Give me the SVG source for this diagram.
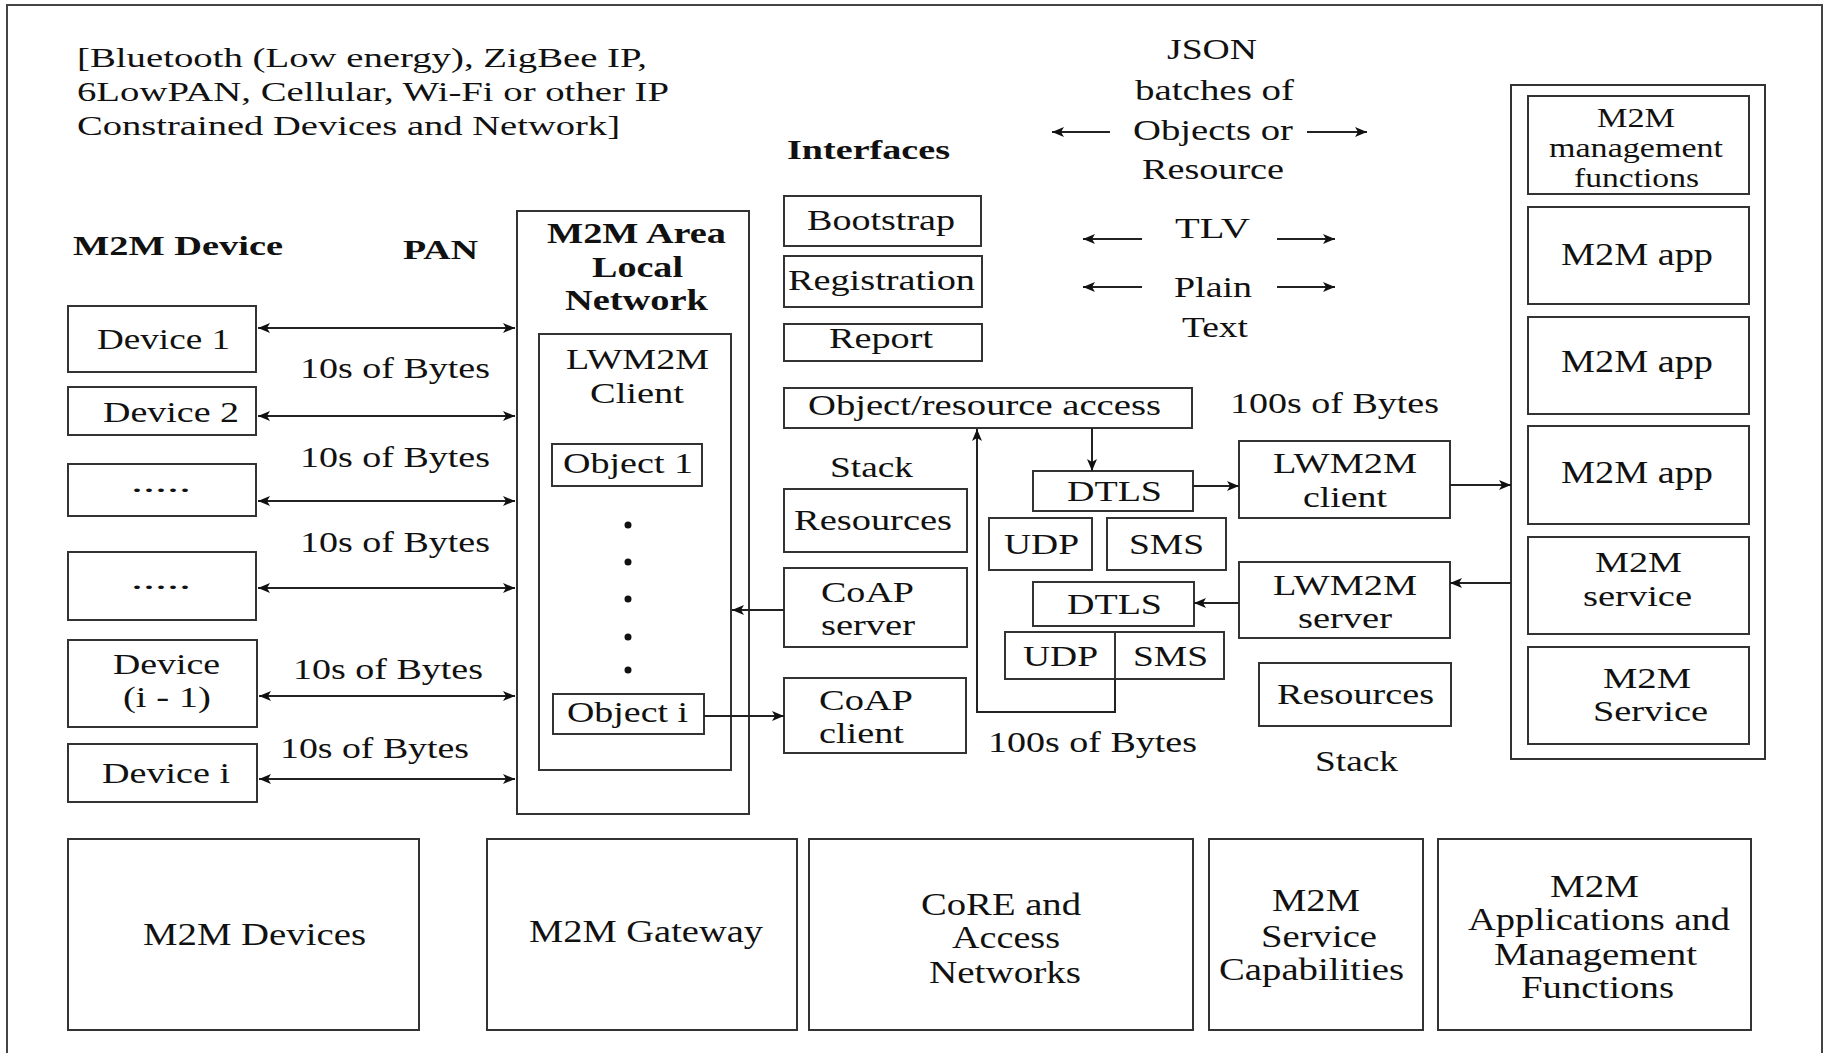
<svg xmlns="http://www.w3.org/2000/svg" width="1825" height="1053" viewBox="0 0 1825 1053">
<style>
.b{fill:#fff;stroke:#333;stroke-width:2}
.t{font-family:"Liberation Serif","Times New Roman",serif;font-size:30px;fill:#111}
.s{font-size:28px}
.l{font-size:32px}
.bd{font-weight:bold}
.c{fill:none;stroke:#222;stroke-width:2}
</style>
<defs>
<marker id="ah" viewBox="0 0 12 10" refX="12" refY="5" markerWidth="12" markerHeight="10" markerUnits="userSpaceOnUse" orient="auto-start-reverse">
<path d="M0,0 L12,5 L0,10 L3,5 z" fill="#111"/>
</marker>
</defs>
<rect width="1825" height="1053" fill="#fff"/>
<path d="M7,1053 V5 H1822 V1053" fill="none" stroke="#444" stroke-width="2"/>

<g id="labels">
<text class="t s" x="77" y="67" textLength="570" lengthAdjust="spacingAndGlyphs">[Bluetooth (Low energy), ZigBee IP,</text>
<text class="t s" x="77" y="101" textLength="592" lengthAdjust="spacingAndGlyphs">6LowPAN, Cellular, Wi-Fi or other IP</text>
<text class="t s" x="77" y="135" textLength="543" lengthAdjust="spacingAndGlyphs">Constrained Devices and Network]</text>
<text class="t s bd" x="73" y="255" textLength="210" lengthAdjust="spacingAndGlyphs">M2M Device</text>
<text class="t s bd" x="403" y="259" textLength="75" lengthAdjust="spacingAndGlyphs">PAN</text>
<text class="t s bd" x="787" y="159" textLength="163" lengthAdjust="spacingAndGlyphs">Interfaces</text>
<text class="t" x="300" y="378" textLength="190" lengthAdjust="spacingAndGlyphs">10s of Bytes</text>
<text class="t" x="300" y="467" textLength="190" lengthAdjust="spacingAndGlyphs">10s of Bytes</text>
<text class="t" x="300" y="552" textLength="190" lengthAdjust="spacingAndGlyphs">10s of Bytes</text>
<text class="t" x="293" y="679" textLength="190" lengthAdjust="spacingAndGlyphs">10s of Bytes</text>
<text class="t" x="280" y="758" textLength="189" lengthAdjust="spacingAndGlyphs">10s of Bytes</text>
<text class="t" x="1167" y="59" textLength="90" lengthAdjust="spacingAndGlyphs">JSON</text>
<text class="t" x="1135" y="100" textLength="159" lengthAdjust="spacingAndGlyphs">batches of</text>
<text class="t" x="1133" y="140" textLength="160" lengthAdjust="spacingAndGlyphs">Objects or</text>
<text class="t" x="1142" y="179" textLength="142" lengthAdjust="spacingAndGlyphs">Resource</text>
<text class="t" x="1175" y="238" textLength="75" lengthAdjust="spacingAndGlyphs">TLV</text>
<text class="t" x="1174" y="297" textLength="78" lengthAdjust="spacingAndGlyphs">Plain</text>
<text class="t" x="1182" y="337" textLength="66" lengthAdjust="spacingAndGlyphs">Text</text>
<text class="t" x="830" y="477" textLength="83" lengthAdjust="spacingAndGlyphs">Stack</text>
<text class="t" x="1230" y="413" textLength="209" lengthAdjust="spacingAndGlyphs">100s of Bytes</text>
<text class="t" x="988" y="752" textLength="209" lengthAdjust="spacingAndGlyphs">100s of Bytes</text>
<text class="t" x="1315" y="771" textLength="83" lengthAdjust="spacingAndGlyphs">Stack</text>
</g>

<g id="device1"><rect class="b" x="68" y="306" width="188" height="66"/><text class="t" x="97" y="349" textLength="133" lengthAdjust="spacingAndGlyphs">Device 1</text></g>
<g id="device2"><rect class="b" x="68" y="387" width="188" height="48"/><text class="t" x="103" y="422" textLength="136" lengthAdjust="spacingAndGlyphs">Device 2</text></g>
<g id="device3"><rect class="b" x="68" y="464" width="188" height="52"/><text class="t" x="131" y="492" textLength="60" lengthAdjust="spacingAndGlyphs">.....</text></g>
<g id="device4"><rect class="b" x="68" y="552" width="188" height="68"/><text class="t" x="131" y="589" textLength="60" lengthAdjust="spacingAndGlyphs">.....</text></g>
<g id="device5"><rect class="b" x="68" y="640" width="189" height="87"/><text class="t" x="113" y="674" textLength="107" lengthAdjust="spacingAndGlyphs">Device</text><text class="t" x="123" y="707" textLength="88" lengthAdjust="spacingAndGlyphs">(i - 1)</text></g>
<g id="device6"><rect class="b" x="68" y="744" width="189" height="58"/><text class="t" x="102" y="783" textLength="128" lengthAdjust="spacingAndGlyphs">Device i</text></g>

<g id="area">
<rect class="b" x="517" y="211" width="232" height="603"/>
<text class="t bd" x="547" y="243" textLength="179" lengthAdjust="spacingAndGlyphs">M2M Area</text>
<text class="t bd" x="592" y="277" textLength="91" lengthAdjust="spacingAndGlyphs">Local</text>
<text class="t bd" x="565" y="310" textLength="143" lengthAdjust="spacingAndGlyphs">Network</text>
</g>
<g id="lwm2m-client-gw">
<rect class="b" x="539" y="334" width="192" height="436"/>
<text class="t" x="566" y="369" textLength="143" lengthAdjust="spacingAndGlyphs">LWM2M</text>
<text class="t" x="590" y="403" textLength="94" lengthAdjust="spacingAndGlyphs">Client</text>
<circle cx="628" cy="525" r="3.5" fill="#111"/>
<circle cx="628" cy="562" r="3.5" fill="#111"/>
<circle cx="628" cy="599" r="3.5" fill="#111"/>
<circle cx="628" cy="637" r="3.5" fill="#111"/>
<circle cx="628" cy="670" r="3.5" fill="#111"/>
</g>
<g id="object1"><rect class="b" x="552" y="444" width="150" height="42"/><text class="t" x="563" y="473" textLength="130" lengthAdjust="spacingAndGlyphs">Object 1</text></g>
<g id="objecti"><rect class="b" x="553" y="694" width="151" height="40"/><text class="t" x="567" y="722" textLength="121" lengthAdjust="spacingAndGlyphs">Object i</text></g>

<g id="bootstrap"><rect class="b" x="784" y="196" width="197" height="50"/><text class="t" x="807" y="230" textLength="148" lengthAdjust="spacingAndGlyphs">Bootstrap</text></g>
<g id="registration"><rect class="b" x="784" y="256" width="198" height="51"/><text class="t" x="788" y="290" textLength="187" lengthAdjust="spacingAndGlyphs">Registration</text></g>
<g id="report"><rect class="b" x="784" y="324" width="198" height="37"/><text class="t" x="829" y="348" textLength="104" lengthAdjust="spacingAndGlyphs">Report</text></g>
<g id="objaccess"><rect class="b" x="784" y="388" width="408" height="40"/><text class="t" x="808" y="415" textLength="353" lengthAdjust="spacingAndGlyphs">Object/resource access</text></g>
<g id="resources-l"><rect class="b" x="784" y="489" width="183" height="63"/><text class="t" x="794" y="530" textLength="158" lengthAdjust="spacingAndGlyphs">Resources</text></g>
<g id="coap-server"><rect class="b" x="784" y="568" width="183" height="79"/><text class="t" x="821" y="602" textLength="93" lengthAdjust="spacingAndGlyphs">CoAP</text><text class="t" x="821" y="635" textLength="94" lengthAdjust="spacingAndGlyphs">server</text></g>
<g id="coap-client"><rect class="b" x="784" y="678" width="182" height="75"/><text class="t" x="819" y="710" textLength="94" lengthAdjust="spacingAndGlyphs">CoAP</text><text class="t" x="819" y="743" textLength="85" lengthAdjust="spacingAndGlyphs">client</text></g>

<g id="dtls1"><rect class="b" x="1033" y="471" width="160" height="40"/><text class="t" x="1067" y="501" textLength="95" lengthAdjust="spacingAndGlyphs">DTLS</text></g>
<g id="udp1"><rect class="b" x="989" y="518" width="103" height="52"/><text class="t" x="1004" y="554" textLength="75" lengthAdjust="spacingAndGlyphs">UDP</text></g>
<g id="sms1"><rect class="b" x="1107" y="518" width="119" height="52"/><text class="t" x="1129" y="554" textLength="75" lengthAdjust="spacingAndGlyphs">SMS</text></g>
<g id="dtls2"><rect class="b" x="1033" y="582" width="161" height="44"/><text class="t" x="1067" y="614" textLength="95" lengthAdjust="spacingAndGlyphs">DTLS</text></g>
<g id="udpsms2"><rect class="b" x="1005" y="632" width="219" height="47"/><line x1="1115" y1="632" x2="1115" y2="679" stroke="#333" stroke-width="2"/><text class="t" x="1023" y="666" textLength="75" lengthAdjust="spacingAndGlyphs">UDP</text><text class="t" x="1133" y="666" textLength="75" lengthAdjust="spacingAndGlyphs">SMS</text></g>
<g id="lwm2m-client"><rect class="b" x="1239" y="441" width="211" height="77"/><text class="t" x="1273" y="473" textLength="144" lengthAdjust="spacingAndGlyphs">LWM2M</text><text class="t" x="1303" y="507" textLength="84" lengthAdjust="spacingAndGlyphs">client</text></g>
<g id="lwm2m-server"><rect class="b" x="1239" y="562" width="211" height="76"/><text class="t" x="1273" y="595" textLength="144" lengthAdjust="spacingAndGlyphs">LWM2M</text><text class="t" x="1298" y="628" textLength="94" lengthAdjust="spacingAndGlyphs">server</text></g>
<g id="resources-r"><rect class="b" x="1259" y="663" width="192" height="63"/><text class="t" x="1277" y="704" textLength="157" lengthAdjust="spacingAndGlyphs">Resources</text></g>

<g id="server-side">
<rect class="b" x="1511" y="85" width="254" height="674"/>
</g>
<g id="mgmt"><rect class="b" x="1528" y="96" width="221" height="98"/><text class="t s" x="1597" y="127" textLength="78" lengthAdjust="spacingAndGlyphs">M2M</text><text class="t s" x="1549" y="157" textLength="174" lengthAdjust="spacingAndGlyphs">management</text><text class="t s" x="1574" y="187" textLength="125" lengthAdjust="spacingAndGlyphs">functions</text></g>
<g id="app1"><rect class="b" x="1528" y="207" width="221" height="97"/><text class="t l" x="1561" y="265" textLength="152" lengthAdjust="spacingAndGlyphs">M2M app</text></g>
<g id="app2"><rect class="b" x="1528" y="317" width="221" height="97"/><text class="t l" x="1561" y="372" textLength="152" lengthAdjust="spacingAndGlyphs">M2M app</text></g>
<g id="app3"><rect class="b" x="1528" y="426" width="221" height="98"/><text class="t l" x="1561" y="483" textLength="152" lengthAdjust="spacingAndGlyphs">M2M app</text></g>
<g id="service1"><rect class="b" x="1528" y="537" width="221" height="97"/><text class="t" x="1595" y="572" textLength="87" lengthAdjust="spacingAndGlyphs">M2M</text><text class="t" x="1583" y="606" textLength="109" lengthAdjust="spacingAndGlyphs">service</text></g>
<g id="service2"><rect class="b" x="1528" y="647" width="221" height="97"/><text class="t" x="1603" y="688" textLength="88" lengthAdjust="spacingAndGlyphs">M2M</text><text class="t" x="1593" y="721" textLength="115" lengthAdjust="spacingAndGlyphs">Service</text></g>

<g id="m2m-devices"><rect class="b" x="68" y="839" width="351" height="191"/><text class="t l" x="143" y="945" textLength="223" lengthAdjust="spacingAndGlyphs">M2M Devices</text></g>
<g id="m2m-gateway"><rect class="b" x="487" y="839" width="310" height="191"/><text class="t l" x="529" y="942" textLength="234" lengthAdjust="spacingAndGlyphs">M2M Gateway</text></g>
<g id="core"><rect class="b" x="809" y="839" width="384" height="191"/><text class="t l" x="921" y="915" textLength="160" lengthAdjust="spacingAndGlyphs">CoRE and</text><text class="t l" x="952" y="948" textLength="108" lengthAdjust="spacingAndGlyphs">Access</text><text class="t l" x="929" y="983" textLength="152" lengthAdjust="spacingAndGlyphs">Networks</text></g>
<g id="capabilities"><rect class="b" x="1209" y="839" width="214" height="191"/><text class="t l" x="1272" y="911" textLength="88" lengthAdjust="spacingAndGlyphs">M2M</text><text class="t l" x="1261" y="947" textLength="116" lengthAdjust="spacingAndGlyphs">Service</text><text class="t l" x="1219" y="980" textLength="185" lengthAdjust="spacingAndGlyphs">Capabilities</text></g>
<g id="applications"><rect class="b" x="1438" y="839" width="313" height="191"/><text class="t l" x="1550" y="897" textLength="89" lengthAdjust="spacingAndGlyphs">M2M</text><text class="t l" x="1468" y="930" textLength="262" lengthAdjust="spacingAndGlyphs">Applications and</text><text class="t l" x="1494" y="965" textLength="203" lengthAdjust="spacingAndGlyphs">Management</text><text class="t l" x="1521" y="998" textLength="153" lengthAdjust="spacingAndGlyphs">Functions</text></g>

<g id="connectors">
<line class="c" x1="258" y1="328" x2="515" y2="328" marker-start="url(#ah)" marker-end="url(#ah)"/>
<line class="c" x1="258" y1="416" x2="515" y2="416" marker-start="url(#ah)" marker-end="url(#ah)"/>
<line class="c" x1="258" y1="501" x2="515" y2="501" marker-start="url(#ah)" marker-end="url(#ah)"/>
<line class="c" x1="258" y1="588" x2="515" y2="588" marker-start="url(#ah)" marker-end="url(#ah)"/>
<line class="c" x1="259" y1="696" x2="515" y2="696" marker-start="url(#ah)" marker-end="url(#ah)"/>
<line class="c" x1="259" y1="779" x2="515" y2="779" marker-start="url(#ah)" marker-end="url(#ah)"/>
<line class="c" x1="784" y1="610" x2="732" y2="610" marker-end="url(#ah)"/>
<line class="c" x1="704" y1="716" x2="784" y2="716" marker-end="url(#ah)"/>
<line class="c" x1="1092" y1="428" x2="1092" y2="471" marker-end="url(#ah)"/>
<line class="c" x1="1193" y1="486" x2="1239" y2="486" marker-end="url(#ah)"/>
<line class="c" x1="1450" y1="485" x2="1511" y2="485" marker-end="url(#ah)"/>
<line class="c" x1="1511" y1="583" x2="1450" y2="583" marker-end="url(#ah)"/>
<line class="c" x1="1239" y1="603" x2="1194" y2="603" marker-end="url(#ah)"/>
<polyline class="c" points="1115,679 1115,712 977,712 977,429" marker-end="url(#ah)"/>
<line class="c" x1="1110" y1="132" x2="1052" y2="132" marker-end="url(#ah)"/>
<line class="c" x1="1307" y1="132" x2="1367" y2="132" marker-end="url(#ah)"/>
<line class="c" x1="1142" y1="239" x2="1083" y2="239" marker-end="url(#ah)"/>
<line class="c" x1="1277" y1="239" x2="1335" y2="239" marker-end="url(#ah)"/>
<line class="c" x1="1142" y1="287" x2="1083" y2="287" marker-end="url(#ah)"/>
<line class="c" x1="1277" y1="287" x2="1335" y2="287" marker-end="url(#ah)"/>
</g>
</svg>
